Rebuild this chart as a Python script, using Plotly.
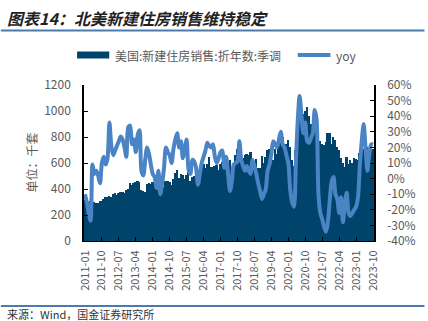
import plotly.graph_objects as go

# ---------------- data ----------------
months = [f"{y}-{m:02d}" for y in range(2011, 2024) for m in range(1, 13)][:154]  # 2011-01 .. 2023-10

sales = [
    315, 300, 300, 310, 305, 300, 295, 295, 310, 310, 320, 335,   # 2011
    340, 350, 340, 360, 370, 355, 370, 380, 380, 370, 390, 400,   # 2012
    445, 430, 445, 455, 460, 455, 395, 385, 380, 440, 450, 440,   # 2013
    455, 430, 410, 425, 455, 405, 415, 465, 465, 455, 430, 480,   # 2014
    520, 545, 485, 515, 510, 480, 505, 530, 465, 490, 500, 545,   # 2015
    510, 520, 530, 595, 565, 595, 650, 570, 570, 575, 585, 545,   # 2016
    595, 605, 615, 595, 610, 625, 565, 560, 665, 710, 690, 625,   # 2017
    640, 665, 670, 660, 685, 640, 605, 630, 560, 565, 655, 600,   # 2018
    645, 700, 710, 675, 625, 710, 670, 730, 760, 800, 740, 750,   # 2019
    775, 725, 620, 580, 700, 840, 960, 940, 980, 1000, 1030, 960, # 2020
    900, 880, 1000, 880, 800, 770, 750, 740, 760, 830, 830, 745, # 2021
    800, 780, 720, 700, 640, 600, 570, 650, 590, 620, 600, 640,   # 2022
    630, 625, 680, 680, 710, 690, 720, 660, 700, 710,             # 2023
]

yoy = [
    -10, -15, -22, -27, 9, 3, 5, 2, -3, 10, 14, 9,
    13, 36, 21, 15, 18, 21, 24, 27, 25, 20, 14, 33,
    34, 22, 25, 17, 28, 31, 5, 2, 12, 20, 16, 9,
    3, 1, -6, 5, -10, -3, 7, 20, 17, 15, 10, 19,
    25, 29, 20, 24, 13, 18, 25, 6, 3, 12, 11, 7,
    -4, 3, 10, 14, 18, 23, 21, 20, 22, 14, 10, 13,
    17, 18, 7, 14, 3, -8, -2, 9, 10, 11, 24, 12,
    8, 5, 8, 5, 3, 12, 8, 3, -3, -8, -13, -10,
    -7, 5, 9, 16, 24, 22, 20, 25, 30, 22, 20, 15,
    10, -7, -15, -18, 10, 37, 53, 40, 29, 36, 24, 23,
    26, 29, 44, 38, -10, -22, -26, -31, -34, -28, -14, -2,
    1, -10, -13, -22, -12, -28, -16, -9, -22, -24, -22, -20,
    -18, -12, 9, 24, 35, 20, 5, 16, 22, 22,
]

tick_labels = months[::9]
left_ticks = [0, 200, 400, 600, 800, 1000, 1200]
right_ticks = [-40, -30, -20, -10, 0, 10, 20, 30, 40, 50, 60]
right_tick_text = [f"{v}%" for v in right_ticks]

title_text = "图表14：北美新建住房销售维持稳定"
bar_name = "美国:新建住房销售:折年数:季调"
line_name = "yoy"
y_title = "单位：千套"
source_text = "来源：Wind，国金证券研究所"

# ---------------- style ----------------
BAR = "#00436B"
LINE = "#4A84C4"
GRAY = "#595959"
FONT = "Noto Sans CJK SC"

W, H = 428, 321
L, R, T, B = 84, 51, 85, 80
pw, ph = W - L - R, H - T - B


def px(x):
    return (x - L) / pw


def py(y):
    return (H - B - y) / ph


fig = go.Figure()
fig.add_trace(go.Bar(x=months, y=sales, name=bar_name, marker=dict(color=BAR, line=dict(width=0)),
                     yaxis="y", showlegend=False))
fig.add_trace(go.Scatter(x=months, y=yoy, name=line_name, mode="lines",
                         line=dict(color=LINE, width=4, shape="spline", smoothing=0.8),
                         yaxis="y2", showlegend=False))

fig.update_layout(
    width=W, height=H,
    margin=dict(l=L, r=R, t=T, b=B),
    paper_bgcolor="white", plot_bgcolor="white",
    bargap=0,
    font=dict(family=FONT, size=12, color=GRAY),
    xaxis=dict(type="category", range=[-0.5, len(months) - 0.5], tickmode="array",
               tickvals=tick_labels, ticktext=tick_labels, tickangle=-90,
               ticks="inside", ticklen=4, tickcolor="black", showline=True, linecolor="black",
               linewidth=1, showgrid=False, tickfont=dict(size=11, color=GRAY), ticklabelstandoff=4),
    yaxis=dict(range=[0, 1200], tickmode="array", tickvals=left_ticks, ticks="inside", ticklen=4,
               tickcolor="black", showline=True, linecolor="black", linewidth=1.5, showgrid=False,
               zeroline=False, tickfont=dict(size=12, color=GRAY), ticklabelstandoff=9),
    yaxis2=dict(range=[-40, 60], tickmode="array", tickvals=right_ticks, ticktext=right_tick_text,
                overlaying="y", side="right",
                ticks="inside", ticklen=4, tickcolor="black", showline=True, linecolor="black",
                linewidth=1.5, showgrid=False, zeroline=False,
                tickfont=dict(size=12, color=GRAY), ticklabelstandoff=9),
)

shapes = [
    # rule under title
    dict(type="line", xref="paper", yref="paper", x0=px(0), x1=px(W), y0=py(30.5), y1=py(30.5),
         line=dict(color="#4A7AAE", width=2)),
    # rule above source
    dict(type="line", xref="paper", yref="paper", x0=px(0), x1=px(W), y0=py(306), y1=py(306),
         line=dict(color="#4A7AAE", width=2)),
    # legend swatches
    dict(type="rect", xref="paper", yref="paper", x0=px(77), x1=px(109.5), y0=py(58.5), y1=py(51.5),
         fillcolor=BAR, line=dict(width=0)),
    dict(type="line", xref="paper", yref="paper", x0=px(300), x1=px(333), y0=py(55), y1=py(55),
         line=dict(color=LINE, width=4)),
]

annotations = [
    dict(text=title_text, xref="paper", yref="paper", x=px(4), y=py(18), xanchor="left", yanchor="middle",
         showarrow=False, font=dict(family=FONT, size=16, color="#222222", weight="bold", style="italic")),
    dict(text=source_text, xref="paper", yref="paper", x=px(4), y=py(314), xanchor="left", yanchor="middle",
         showarrow=False, font=dict(family=FONT, size=11, color="#333333")),
    dict(text=bar_name, xref="paper", yref="paper", x=px(113), y=py(55), xanchor="left", yanchor="middle",
         showarrow=False, font=dict(family=FONT, size=12, color=GRAY)),
    dict(text=line_name, xref="paper", yref="paper", x=px(337), y=py(55), xanchor="left", yanchor="middle",
         showarrow=False, font=dict(family=FONT, size=12, color=GRAY)),
    dict(text=y_title, xref="paper", yref="paper", x=px(30), y=0.5, xanchor="center", yanchor="middle",
         textangle=-90, showarrow=False, font=dict(family=FONT, size=12, color=GRAY)),
]

fig.update_layout(shapes=shapes, annotations=annotations)
fig.write_html("out.html")
